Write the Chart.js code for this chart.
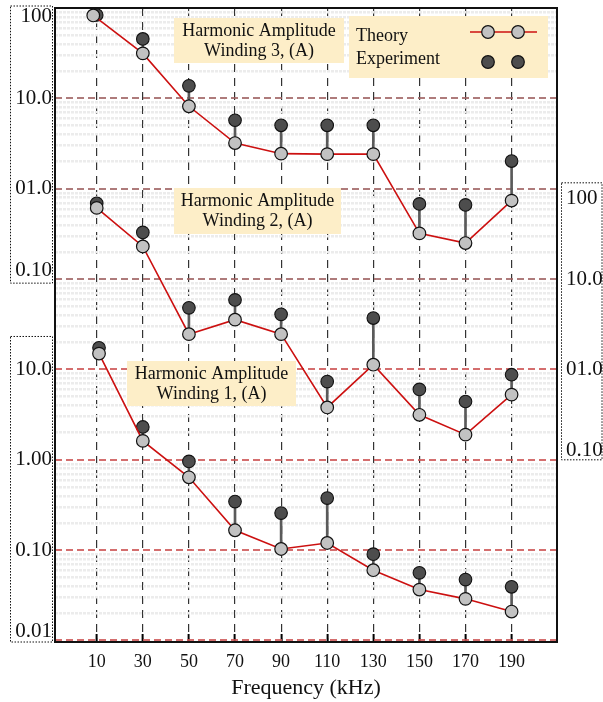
<!DOCTYPE html>
<html>
<head>
<meta charset="utf-8">
<script src="https://cdn.jsdelivr.net/npm/chart.js@4.4.0/dist/chart.umd.min.js"></script>
<style>
  html, body { margin: 0; padding: 0; background: #fff; }
</style>
</head>
<body>
<canvas id="harm" width="603" height="702"></canvas>
<script>
// harmonic frequencies (kHz)
var freqs = [10, 30, 50, 70, 90, 110, 130, 150, 170, 190];
var w1Freqs = [11, 30, 50, 70, 90, 110, 130, 150, 170, 190];
var w3TheoryFreqs = [8.5, 30, 50, 70, 90, 110, 130, 150, 170, 190];

// harmonic amplitudes (A)
var w1Theory = [15.0, 1.62, 0.64, 0.166, 0.103, 0.120, 0.060, 0.0366, 0.0289, 0.0209];
var w1Exp    = [17.4, 2.31, 0.96, 0.345, 0.257, 0.377, 0.0903, 0.0561, 0.0472, 0.0393];
var w2Theory = [61.5, 23.0, 2.46, 3.56, 2.46, 0.380, 1.13, 0.315, 0.190, 0.527];
var w2Exp    = [69.2, 32.9, 4.81, 5.89, 4.08, 0.734, 3.71, 0.602, 0.442, 0.875];
var w3Theory = [83, 31.6, 8.2, 3.21, 2.45, 2.42, 2.42, 0.321, 0.251, 0.741];
var w3Exp    = [84, 45.6, 13.8, 5.74, 5.05, 5.05, 5.05, 0.681, 0.664, 2.03];

// windings 2 and 3 are stacked one and three decades above winding 1
var w2Shift = 10;
var w3Shift = 1000;

// axis labels per decade (10^-2 .. 10^5)
var decades = [-2, -1, 0, 1, 2, 3, 4, 5];
var leftLabels  = ['0.01', '0.10', '1.00', '10.0', '0.10', '01.0', '10.0', '100'];
var rightLabels = ['', '', '0.10', '01.0', '10.0', '100', '', ''];
// end labels of each group are pulled half a line into their group
var leftNudge  = [-1, 0, 0, 0, -1, 0, 0, 1];
var rightNudge = [0, 0, -1, 0, 0, 1, 0, 0];

var serif = 'Liberation Serif';
var theoryFill = '#c2c2c2';
var expFill = '#4d4d4d';
var lineRed = '#cc1010';

var notes = [
  { lines: ['Harmonic Amplitude', 'Winding 3, (A)'], x: 174, y: 18, w: 170, h: 45 },
  { lines: ['Harmonic Amplitude', 'Winding 2, (A)'], x: 174, y: 188, w: 167, h: 46 },
  { lines: ['Harmonic Amplitude', 'Winding 1, (A)'], x: 127, y: 361, w: 169, h: 45 }
];

function pts(xs, ys, k) {
  return ys.map(function (v, i) { return { x: xs[i], y: v * k }; });
}
function stems(xs, lo, hi, k) {
  return lo.map(function (v, i) { return { x: xs[i], y: [v * k, hi[i] * k] }; });
}
function isDecade(v) {
  var l = Math.log10(v);
  return Math.abs(l - Math.round(l)) < 1e-6;
}
function decadeIndex(v) {
  return decades.indexOf(Math.round(Math.log10(v)));
}
function nudged(text, n) {
  if (n > 0) return ['', text];
  if (n < 0) return [text, ''];
  return text;
}

function theorySet(data) {
  return {
    type: 'line', data: data, order: 1, clip: false,
    borderColor: lineRed, borderWidth: 1.6, tension: 0,
    pointRadius: 6.3, pointBackgroundColor: theoryFill,
    pointBorderColor: '#111', pointBorderWidth: 1.2
  };
}
function expSet(data) {
  return {
    type: 'line', data: data, order: 2, clip: false, showLine: false,
    pointRadius: 6.3, pointBackgroundColor: expFill,
    pointBorderColor: '#111', pointBorderWidth: 1.1
  };
}
function stemSet(data) {
  return {
    type: 'bar', data: data, order: 3, grouped: false,
    barThickness: 2, backgroundColor: '#5a5a5a'
  };
}

// cream caption boxes, legend, dotted label frames and plot frame
var decor = {
  id: 'decor',
  beforeDatasetsDraw: function (chart) {
    var ctx = chart.ctx;
    ctx.save();
    ctx.font = '18px "' + serif + '"';
    ctx.textBaseline = 'middle';
    ctx.textAlign = 'center';
    notes.forEach(function (n) {
      ctx.fillStyle = '#fdeec8';
      ctx.fillRect(n.x, n.y, n.w, n.h);
      ctx.fillStyle = '#111';
      ctx.fillText(n.lines[0], n.x + n.w / 2, n.y + 13);
      ctx.fillText(n.lines[1], n.x + n.w / 2, n.y + 33);
    });

    // legend
    ctx.fillStyle = '#fdeec8';
    ctx.fillRect(349, 16, 199, 62);
    ctx.fillStyle = '#111';
    ctx.textAlign = 'left';
    ctx.fillText('Theory', 356, 36);
    ctx.fillText('Experiment', 356, 59);
    ctx.strokeStyle = lineRed;
    ctx.lineWidth = 1.6;
    ctx.beginPath();
    ctx.moveTo(470, 32);
    ctx.lineTo(537, 32);
    ctx.stroke();
    [488, 518].forEach(function (cx) {
      ctx.lineWidth = 1.2;
      ctx.strokeStyle = '#111';
      ctx.fillStyle = theoryFill;
      ctx.beginPath(); ctx.arc(cx, 32, 6.3, 0, Math.PI * 2); ctx.fill(); ctx.stroke();
      ctx.fillStyle = expFill;
      ctx.beginPath(); ctx.arc(cx, 62, 6.3, 0, Math.PI * 2); ctx.fill(); ctx.stroke();
    });
    ctx.restore();
  },
  afterDraw: function (chart) {
    var ctx = chart.ctx, a = chart.chartArea, y = chart.scales.y;
    ctx.save();
    ctx.strokeStyle = '#111';
    ctx.lineWidth = 2;
    ctx.strokeRect(a.left, a.top, a.right - a.left, a.bottom - a.top);

    ctx.lineWidth = 1;
    ctx.setLineDash([1.5, 1.5]);
    ctx.strokeRect(10.5, a.top - 2, 42, y.getPixelForValue(100) + 4 - a.top + 2);
    var t = y.getPixelForValue(10) - 33;
    ctx.strokeRect(10.5, t, 42, a.bottom - t);
    var rt = y.getPixelForValue(1000) - 6;
    ctx.strokeRect(561.5, rt, 40.5, y.getPixelForValue(1) - rt);
    ctx.restore();
  }
};

var ctx = document.getElementById('harm').getContext('2d');
var chart = new Chart(ctx, {
  type: 'line',
  data: {
    datasets: [
      theorySet(pts(w1Freqs, w1Theory, 1)),
      theorySet(pts(freqs, w2Theory, w2Shift)),
      theorySet(pts(w3TheoryFreqs, w3Theory, w3Shift)),
      expSet(pts(w1Freqs, w1Exp, 1)),
      expSet(pts(freqs, w2Exp, w2Shift)),
      expSet(pts(freqs, w3Exp, w3Shift)),
      stemSet(stems(w1Freqs, w1Theory, w1Exp, 1)),
      stemSet(stems(freqs, w2Theory, w2Exp, w2Shift)),
      stemSet(stems(freqs, w3Theory, w3Exp, w3Shift))
    ]
  },
  options: {
    responsive: false,
    animation: false,
    events: [],
    devicePixelRatio: 1,
    layout: { padding: { top: 8, left: 0, right: 0, bottom: 0 } },
    plugins: { legend: { display: false }, tooltip: { enabled: false } },
    scales: {
      x: {
        type: 'linear', min: -8.1, max: 209.7, offset: false,
        afterBuildTicks: function (s) {
          s.ticks = freqs.map(function (v) { return { value: v }; });
        },
        ticks: {
          autoSkip: false, maxRotation: 0, padding: 17, color: '#111',
          font: { family: serif, size: 18 },
          callback: function (v) { return String(v); }
        },
        grid: {
          offset: false, color: '#333', lineWidth: 1.2,
          tickLength: -8, tickWidth: 2, tickColor: '#000'
        },
        border: { display: false, dash: [8, 6] },
        title: {
          display: true, text: 'Frequency (kHz)', color: '#111',
          font: { family: serif, size: 22 }, padding: { top: 0, bottom: 1 }
        },
        afterFit: function (s) { s.height = 60; s.paddingLeft = 0; s.paddingRight = 0; }
      },
      y: {
        type: 'logarithmic', position: 'left', min: 0.00962, max: 100400,
        afterBuildTicks: function (s) {
          var t = [];
          decades.forEach(function (e) {
            for (var m = 1; m <= 9; m++) {
              var v = m * Math.pow(10, e);
              if (v >= s.min && v <= s.max) t.push({ value: v });
            }
          });
          s.ticks = t;
        },
        ticks: {
          autoSkip: false, padding: 3, color: '#111',
          font: { family: serif, size: 21, lineHeight: '17px' },
          callback: function (v) {
            if (!isDecade(v)) return '';
            var i = decadeIndex(v);
            return nudged(leftLabels[i], leftNudge[i]);
          }
        },
        grid: {
          drawTicks: false,
          color: function (c) {
            if (!c.tick || !isDecade(c.tick.value)) return '#ececec';
            return c.tick.value > 50 ? 'rgba(160,100,100,0.85)' : 'rgba(205,85,85,0.85)';
          },
          lineWidth: function (c) { return c.tick && isDecade(c.tick.value) ? 2 : 2.5; }
        },
        border: {
          display: false,
          dash: function (c) { return c.tick && isDecade(c.tick.value) ? [7, 4] : [3, 1]; }
        },
        afterFit: function (s) { s.width = 55; s.paddingTop = 0; s.paddingBottom = 0; }
      },
      y2: {
        type: 'logarithmic', position: 'right', min: 0.00962, max: 100400,
        afterBuildTicks: function (s) {
          s.ticks = decades.map(function (e) { return { value: Math.pow(10, e) }; })
            .filter(function (t) { return t.value >= s.min && t.value <= s.max; });
        },
        ticks: {
          autoSkip: false, padding: 9, color: '#111',
          font: { family: serif, size: 21, lineHeight: '19px' },
          callback: function (v) {
            var i = decadeIndex(v);
            return nudged(rightLabels[i], rightNudge[i]);
          }
        },
        grid: { display: false, drawTicks: false },
        border: { display: false },
        afterFit: function (s) { s.width = 46; s.paddingTop = 0; s.paddingBottom = 0; }
      }
    }
  },
  plugins: [decor]
});
</script>
</body>
</html>
